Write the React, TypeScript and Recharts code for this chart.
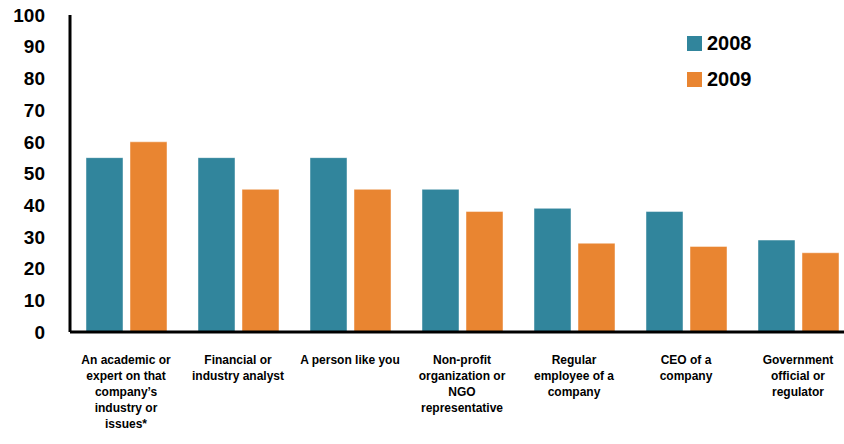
import React from 'react';
import { BarChart, Bar, XAxis, YAxis, Legend } from 'recharts';

const categories = [
    'An academic or\nexpert on that\ncompany\u2019s\nindustry or\nissues*',
    'Financial or\nindustry analyst',
    'A person like you',
    'Non-profit\norganization or\nNGO\nrepresentative',
    'Regular\nemployee of a\ncompany',
    'CEO of a\ncompany',
    'Government\nofficial or\nregulator',
];
const values2008 = [55, 55, 55, 45, 39, 38, 29];
const values2009 = [60, 45, 45, 38, 28, 27, 25];
const yTicks = [0, 10, 20, 30, 40, 50, 60, 70, 80, 90, 100];

const TEAL = '#31859C';
const ORANGE = '#E98531';
const FONT = '"Liberation Sans", Arial, sans-serif';

const data = categories.map((name, i) => ({ name, y2008: values2008[i], y2009: values2009[i] }));

// eslint-disable-next-line @typescript-eslint/no-explicit-any
const CategoryTick = ({ x, y, payload }: any) => {
    const lines = String(payload.value).split('\n');
    return (
        <text x={x} y={y + 32} textAnchor="middle" fontFamily={FONT} fontWeight="bold" fontSize={12} fill="#000">
            {lines.map((line, i) => (
                <tspan key={i} x={x} dy={i === 0 ? 0 : 16}>{line}</tspan>
            ))}
        </text>
    );
};

// eslint-disable-next-line @typescript-eslint/no-explicit-any
const LegendBox = ({ payload }: any) => (
    <div>
        {(payload || []).map((entry: any) => (
            <div key={entry.value} style={{ display: 'flex', alignItems: 'center', height: 36, fontFamily: FONT, fontWeight: 'bold', fontSize: 20, color: '#000' }}>
                <span style={{ width: 15, height: 15, background: entry.color, marginRight: 5, display: 'inline-block' }} />
                {entry.value}
            </div>
        ))}
    </div>
);

export default function App() {
    return (
        <div style={{ position: 'absolute', left: 0, top: 0, width: 844, height: 444, overflow: 'hidden', background: '#fff' }}>
            <BarChart width={854} height={444} data={data} margin={{ top: 15, right: 0, left: 0, bottom: 0 }} barSize={37} barGap={7}>
                <XAxis
                    dataKey="name"
                    height={112}
                    interval={0}
                    tickLine={false}
                    tickSize={0}
                    tickMargin={0}
                    axisLine={{ stroke: '#000', strokeWidth: 3 }}
                    tick={<CategoryTick />}
                />
                <YAxis
                    width={70}
                    domain={[0, 100]}
                    ticks={yTicks}
                    interval={0}
                    tickLine={false}
                    tickSize={0}
                    tickMargin={25}
                    axisLine={{ stroke: '#000', strokeWidth: 3 }}
                    tick={{ fill: '#000', fontSize: 19, fontWeight: 'bold', fontFamily: FONT }}
                />
                {/* centred/middle so the legend takes no room from the plot; placed by wrapperStyle */}
                <Legend
                    layout="vertical"
                    verticalAlign="middle"
                    align="center"
                    content={<LegendBox />}
                    wrapperStyle={{ position: 'absolute', left: 687, top: 25, width: 100 }}
                />
                <Bar dataKey="y2008" name="2008" fill={TEAL} stroke="#fff" strokeOpacity={0.45} strokeWidth={1} isAnimationActive={false} />
                <Bar dataKey="y2009" name="2009" fill={ORANGE} stroke="#fff" strokeOpacity={0.45} strokeWidth={1} isAnimationActive={false} />
            </BarChart>
        </div>
    );
}
